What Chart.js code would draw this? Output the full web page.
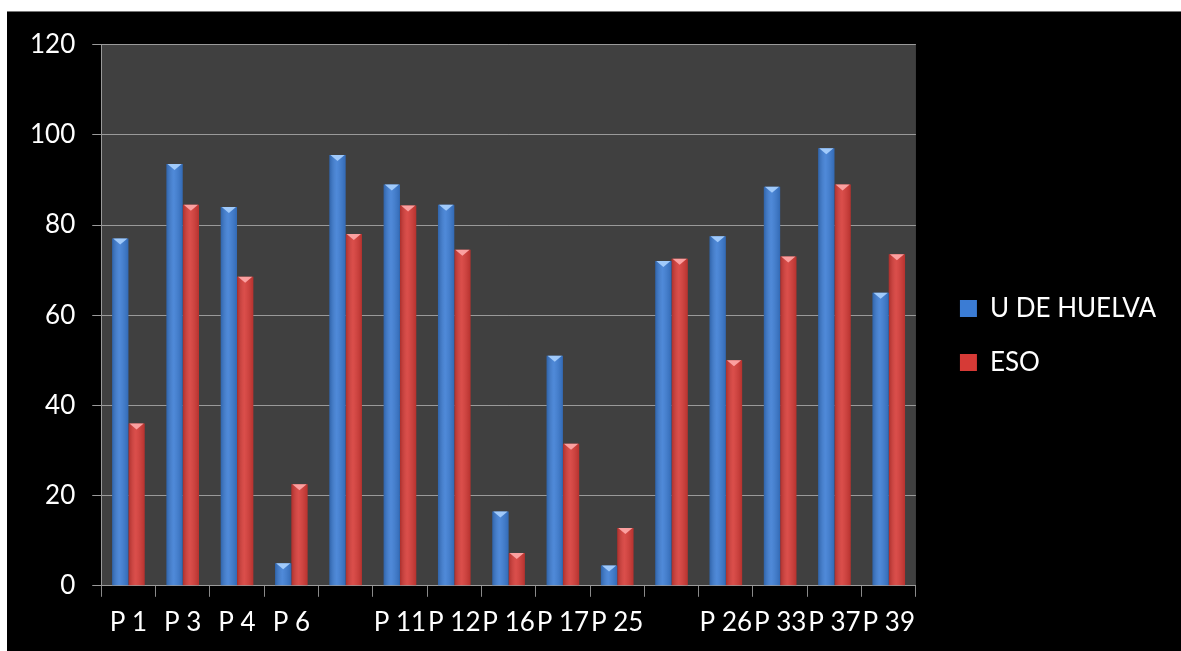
<!DOCTYPE html>
<html>
<head>
<meta charset="utf-8">
<script src="https://cdn.jsdelivr.net/npm/chart.js@4.4.0/dist/chart.umd.min.js"></script>
<style>
  html, body { margin: 0; padding: 0; background: #ffffff; }
  #wrap { position: absolute; left: 7px; top: 11px; width: 1174px; height: 640px; background: #000000; border-top: 1px solid #777; box-sizing: border-box; }
</style>
</head>
<body>
<div id="wrap"><canvas id="chart"></canvas></div>
<script>
const categories = ['P 1', 'P 3', 'P 4', 'P 6', '', 'P 11', 'P 12', 'P 16', 'P 17', 'P 25', '', 'P 26', 'P 33', 'P 37', 'P 39'];
const uHuelva = [77, 93.5, 84, 5, 95.5, 89, 84.5, 16.5, 51, 4.5, 72, 77.5, 88.5, 97, 65];
const eso = [36, 84.5, 68.5, 22.5, 78, 84.3, 74.5, 7.3, 31.5, 12.8, 72.5, 50, 73, 89, 73.5];
const yTicks = [0, 20, 40, 60, 80, 100, 120];

// dark plot background
const plotBg = {
    id: 'plotBg',
    beforeDraw(chart) {
        const a = chart.chartArea;
        const c = chart.ctx;
        c.save();
        c.fillStyle = '#404040';
        c.fillRect(a.left, a.top, a.right - a.left, a.bottom - a.top);
        c.restore();
    }
};

// give the legend a wider gap from the plot, and nudge it where the original sits
const legendNudge = {
    id: 'legendNudge',
    afterInit(chart) {
        const lg = chart.legend;
        const fit = lg.fit;
        lg.fit = function () { fit.call(this); this.width += 13; };
        const draw = lg.draw;
        lg.draw = function () {
            const l = this.left, t = this.top;
            this.left += 16; this.top += 1;
            draw.call(this);
            this.left = l; this.top = t;
        };
    }
};

// cylinder-ish shading and the little triangle on top of each bar
const barShade = {
    id: 'barShade',
    afterDatasetsDraw(chart) {
        const c = chart.ctx;
        chart.data.datasets.forEach((ds, i) => {
            const meta = chart.getDatasetMeta(i);
            meta.data.forEach(bar => {
                const p = bar.getProps(['x', 'y', 'base', 'width'], true);
                const l = p.x - p.width / 2;
                const g = c.createLinearGradient(l, 0, l + p.width, 0);
                g.addColorStop(0, 'rgba(0,0,0,0.2)');
                g.addColorStop(0.45, 'rgba(255,255,255,0.1)');
                g.addColorStop(1, 'rgba(0,0,0,0.15)');
                c.save();
                c.fillStyle = g;
                c.fillRect(l, p.y, p.width, p.base - p.y);
                c.fillStyle = i === 0 ? 'rgba(170,210,255,0.9)' : 'rgba(255,170,170,0.9)';
                c.beginPath();
                c.moveTo(l + 1, p.y);
                c.lineTo(l + p.width - 1, p.y);
                c.lineTo(p.x, p.y + 6);
                c.closePath();
                c.fill();
                c.restore();
            });
        });
    }
};

const ctx = document.getElementById('chart').getContext('2d');
new Chart(ctx, {
    type: 'bar',
    data: {
        labels: categories,
        datasets: [{
            label: 'U DE HUELVA',
            data: uHuelva,
            backgroundColor: '#3b7cd4',
            categoryPercentage: 0.6,
            barPercentage: 1.0
        }, {
            label: 'ESO',
            data: eso,
            backgroundColor: '#d63a36',
            categoryPercentage: 0.6,
            barPercentage: 1.0
        }]
    },
    options: {
        responsive: true,
        maintainAspectRatio: false,
        animation: false,
        layout: { padding: { left: 6, top: 10, right: 18, bottom: 3 } },
        plugins: {
            legend: {
                position: 'right',
                labels: {
                    color: '#ffffff',
                    font: { family: 'Lato', size: 26 },
                    boxWidth: 17,
                    boxHeight: 17,
                    padding: 28
                }
            },
            tooltip: { enabled: false }
        },
        scales: {
            x: {
                offset: true,
                grid: { offset: true, drawOnChartArea: false, color: '#8a8a8a', tickLength: 11 },
                border: { color: '#9a9a9a' },
                ticks: {
                    color: '#ffffff',
                    font: { family: 'Lato', size: 26 },
                    autoSkip: false,
                    maxRotation: 0,
                    padding: 10
                }
            },
            y: {
                min: 0,
                max: 120,
                afterBuildTicks(axis) { axis.ticks = yTicks.map(v => ({ value: v })); },
                grid: { color: '#9a9a9a', tickLength: 9 },
                border: { color: '#9a9a9a' },
                ticks: {
                    color: '#ffffff',
                    font: { family: 'Lato', size: 26 },
                    padding: 17
                }
            }
        }
    },
    plugins: [plotBg, legendNudge, barShade]
});
</script>
</body>
</html>
